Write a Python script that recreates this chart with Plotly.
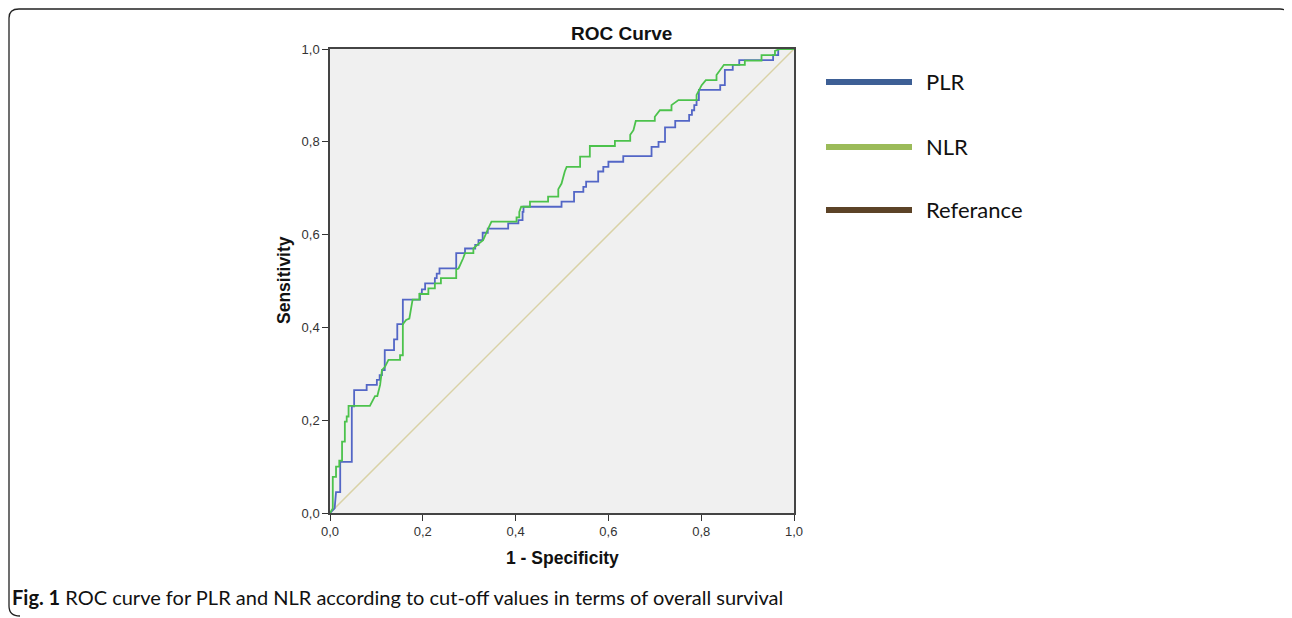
import plotly.graph_objects as go

# ROC coordinates (1 - specificity, sensitivity)
plr_fpr = [0, 0.010, 0.013, 0.022, 0.022, 0.047, 0.047, 0.052, 0.052, 0.079, 0.079, 0.101, 0.101,
           0.107, 0.107, 0.112, 0.112, 0.118, 0.118, 0.138, 0.138, 0.145, 0.145, 0.157, 0.157,
           0.194, 0.194, 0.198, 0.198, 0.205, 0.205, 0.226, 0.226, 0.230, 0.230, 0.236, 0.236,
           0.272, 0.272, 0.291, 0.291, 0.313, 0.313, 0.320, 0.320, 0.329, 0.329, 0.340, 0.340,
           0.384, 0.384, 0.406, 0.406, 0.415, 0.415, 0.417, 0.417, 0.499, 0.499, 0.526, 0.526,
           0.546, 0.546, 0.552, 0.552, 0.578, 0.578, 0.589, 0.589, 0.600, 0.600, 0.632, 0.632,
           0.693, 0.693, 0.708, 0.708, 0.722, 0.722, 0.744, 0.744, 0.774, 0.774, 0.780, 0.780,
           0.785, 0.785, 0.790, 0.790, 0.795, 0.795, 0.841, 0.841, 0.851, 0.851, 0.868, 0.868,
           0.882, 0.882, 0.955, 0.955, 0.966, 0.966, 1.0]
plr_tpr = [0, 0.010, 0.045, 0.045, 0.110, 0.110, 0.230, 0.230, 0.265, 0.265, 0.276, 0.276, 0.287,
           0.287, 0.297, 0.297, 0.308, 0.308, 0.351, 0.351, 0.374, 0.374, 0.407, 0.407, 0.460,
           0.460, 0.473, 0.473, 0.482, 0.482, 0.495, 0.495, 0.506, 0.506, 0.516, 0.516, 0.527,
           0.527, 0.560, 0.560, 0.570, 0.570, 0.578, 0.578, 0.588, 0.588, 0.604, 0.604, 0.613,
           0.613, 0.624, 0.624, 0.631, 0.631, 0.649, 0.649, 0.660, 0.660, 0.671, 0.671, 0.692,
           0.692, 0.703, 0.703, 0.714, 0.714, 0.736, 0.736, 0.746, 0.746, 0.757, 0.757, 0.769,
           0.769, 0.789, 0.789, 0.800, 0.800, 0.831, 0.831, 0.845, 0.845, 0.858, 0.858, 0.868,
           0.868, 0.879, 0.879, 0.890, 0.890, 0.912, 0.912, 0.922, 0.922, 0.955, 0.955, 0.966,
           0.966, 0.976, 0.976, 0.987, 0.987, 1.0, 1.0]

nlr_fpr = [0, 0.006, 0.006, 0.013, 0.013, 0.020, 0.020, 0.026, 0.026, 0.032, 0.032, 0.036, 0.036,
           0.040, 0.040, 0.086, 0.097, 0.102, 0.108, 0.112, 0.1185, 0.126, 0.151, 0.151, 0.157,
           0.157, 0.164, 0.171, 0.178, 0.1925, 0.1925, 0.212, 0.212, 0.226, 0.226, 0.239, 0.239,
           0.272, 0.272, 0.277, 0.287, 0.291, 0.309, 0.309, 0.320, 0.330, 0.341, 0.348, 0.402,
           0.402, 0.408, 0.408, 0.412, 0.431, 0.431, 0.470, 0.470, 0.492, 0.492, 0.499, 0.506,
           0.510, 0.539, 0.539, 0.560, 0.560, 0.614, 0.614, 0.647, 0.647, 0.654, 0.659, 0.700,
           0.700, 0.711, 0.736, 0.736, 0.751, 0.790, 0.790, 0.801, 0.810, 0.833, 0.833, 0.849,
           0.894, 0.894, 0.930, 0.930, 0.959, 0.959, 0.970, 1.0]
nlr_tpr = [0, 0.010, 0.078, 0.078, 0.100, 0.100, 0.113, 0.113, 0.154, 0.154, 0.197, 0.197, 0.208,
           0.208, 0.231, 0.231, 0.252, 0.252, 0.276, 0.308, 0.315, 0.330, 0.330, 0.340, 0.340,
           0.407, 0.416, 0.419, 0.460, 0.460, 0.472, 0.472, 0.484, 0.484, 0.495, 0.495, 0.506,
           0.506, 0.525, 0.527, 0.549, 0.560, 0.560, 0.570, 0.580, 0.588, 0.613, 0.628, 0.628,
           0.637, 0.637, 0.649, 0.660, 0.660, 0.671, 0.671, 0.682, 0.682, 0.698, 0.710, 0.736,
           0.746, 0.746, 0.768, 0.768, 0.791, 0.791, 0.802, 0.802, 0.815, 0.825, 0.845, 0.845,
           0.854, 0.868, 0.868, 0.879, 0.890, 0.890, 0.901, 0.922, 0.933, 0.933, 0.944, 0.966,
           0.966, 0.975, 0.975, 0.987, 0.987, 0.996, 1.0, 1.0]

ref_x = [0, 1]
ref_y = [0, 1]

tick_vals = [0, 0.2, 0.4, 0.6, 0.8, 1.0]
tick_text = ["0,0", "0,2", "0,4", "0,6", "0,8", "1,0"]

legend_names = ["PLR", "NLR", "Referance"]
legend_colors = ["#3d5f95", "#9bbb59", "#5c4327"]

# page has an 8px body margin; the figure is shrunk by it so the picture lines up
OFF = 8
W, H = 1292, 618
L, R, T, B = 330, 794, 49, 513

fig = go.Figure()
fig.add_trace(go.Scatter(x=ref_x, y=ref_y, mode="lines",
                         line=dict(color="#d9d2a6", width=1.5), showlegend=False))
fig.add_trace(go.Scatter(x=plr_fpr, y=plr_tpr, mode="lines",
                         line=dict(color="#5366c6", width=1.8), showlegend=False))
fig.add_trace(go.Scatter(x=nlr_fpr, y=nlr_tpr, mode="lines",
                         line=dict(color="#4cc24c", width=1.8), showlegend=False))

axis_common = dict(range=[0, 1], tickvals=tick_vals, ticktext=tick_text, ticks="outside",
                   ticklen=6, tickcolor="#333", linecolor="#444", linewidth=1.5, mirror=True,
                   showgrid=False, zeroline=False,
                   tickfont=dict(family="Liberation Sans", size=13, color="#333"))
fig.update_xaxes(**axis_common)
fig.update_yaxes(**axis_common)


def px_x(p):
    return (p - L) / (R - L)


def px_y(p):
    return (B - p) / (B - T)


def note(text, x, y, size, family="Liberation Sans", xanchor="center", angle=0):
    return dict(text=text, x=px_x(x), y=px_y(y), xref="paper", yref="paper",
                xanchor=xanchor, yanchor="middle", showarrow=False, textangle=angle,
                font=dict(family=family, size=size, color="#111"))


annotations = [
    note("<b>ROC Curve</b>", 621, 34, 19),
    note("<b>1 - Specificity</b>", 562, 558, 17.5),
    note("<b>Sensitivity</b>", 284, 280, 17.5, angle=-90),
    note("<b>Fig. 1</b> ROC curve for PLR and NLR according to cut-off values in terms of overall survival",
         10, 597, 20, family="Lato", xanchor="left"),
]
shapes = []
legend_y = [82, 147, 210]
for name, col, ly in zip(legend_names, legend_colors, legend_y):
    shapes.append(dict(type="line", xref="paper", yref="paper", x0=px_x(826), x1=px_x(912),
                       y0=px_y(ly), y1=px_y(ly), line=dict(color=col, width=6)))
    annotations.append(note(name, 924, ly, 22, family="Lato", xanchor="left"))

# outer rounded frame
shapes.append(dict(type="path", xref="paper", yref="paper",
                   path=(f"M {px_x(20)} {px_y(616)} Q {px_x(9)} {px_y(616)} {px_x(9)} {px_y(606)} "
                         f"L {px_x(9)} {px_y(18)} "
                         f"Q {px_x(9)} {px_y(9)} {px_x(19)} {px_y(9)} "
                         f"L {px_x(1280)} {px_y(9)} Q {px_x(1289)} {px_y(9)} {px_x(1289)} {px_y(18)} "
                         f"L {px_x(1289)} {px_y(40)}"),
                   line=dict(color="#222", width=1.3)))

fig.update_layout(width=W - OFF, height=H - OFF,
                  margin=dict(l=L - OFF, r=W - R, t=T - OFF, b=H - B),
                  plot_bgcolor="#f0f0f0", paper_bgcolor="white",
                  annotations=annotations, shapes=shapes, showlegend=False)

fig.write_html("out.html")
